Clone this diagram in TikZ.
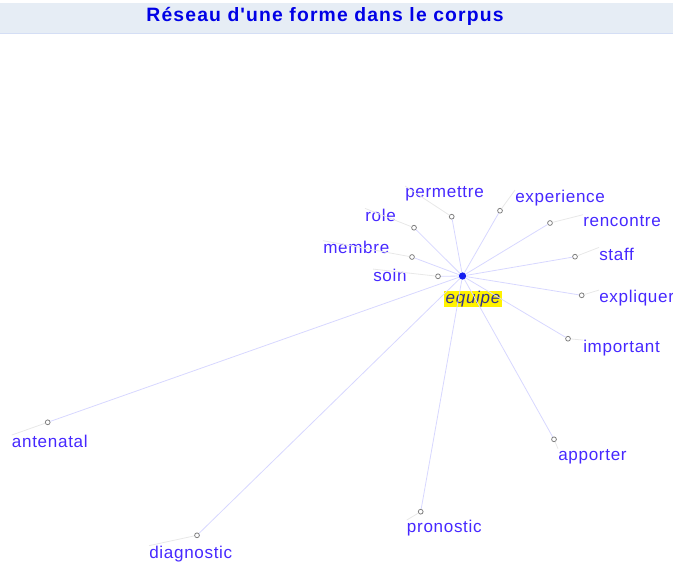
\documentclass[tikz,border=0pt]{standalone}
\usepackage{fontspec}
\setmainfont{Liberation Sans}
\newfontfamily\wordfont[LetterSpace=4]{Liberation Sans}
\newfontfamily\titlefont[LetterSpace=6]{Liberation Sans}
\usepackage{tikz}
\definecolor{wordblue}{RGB}{70,40,255}
\definecolor{titleblue}{RGB}{0,0,230}
\definecolor{hubblue}{RGB}{20,30,240}
\definecolor{linkblue}{RGB}{215,215,255}
\definecolor{leadergray}{RGB}{232,232,232}
\definecolor{barfill}{RGB}{230,237,245}
\definecolor{barline}{RGB}{212,222,245}
\definecolor{focustext}{RGB}{50,50,140}
\tikzstyle{word} = [anchor=base west, inner sep=0pt, text=wordblue, font=\wordfont\fontsize{12.8}{14}\selectfont]
\tikzstyle{focus} = [fill=yellow, text=focustext, inner xsep=1pt, inner ysep=0pt, font=\wordfont\fontsize{12.8}{14}\selectfont\itshape]
\tikzstyle{title} = [anchor=base, inner sep=0pt, text=titleblue, font=\titlefont\fontsize{14.5}{16}\selectfont\bfseries]
\tikzstyle{hub} = [circle, fill=hubblue, minimum size=5.5pt, inner sep=0pt]
\tikzstyle{leaf} = [circle, draw=gray, fill=white, line width=0.6pt, minimum size=3.6pt, inner sep=0pt]
\tikzstyle{link} = [draw=linkblue, line width=0.6pt]
\tikzstyle{leader} = [draw=leadergray, line width=0.6pt]

\begin{document}
\begin{tikzpicture}[x=0.75pt, y=-0.75pt]
    \useasboundingbox (0,0) rectangle (673,564);

    % Title bar.
    \fill [barfill] (0,3) rectangle (673,33);
    \draw [barline, line width=0.75pt] (0,33.5) -- (673,33.5);
    \node (title) [title] at (325,21.5) {Réseau d'une forme dans le corpus};

    % Centre of the network.
    \node (hub) [hub] at (462.5,276) {};
    \node (equipe) [focus] at (473,299) {equipe};

    % Co-occurring forms: dot, then word.
    \foreach\name/\dx/\dy/\lx/\ly in {
        soin/438/276.3/373/281.7,
        membre/412/257/323/253.3,
        role/414/227.7/365/221,
        permettre/451.7/216.7/405/197.3,
        experience/500/210.7/515/202.7,
        rencontre/550/223/583/226,
        staff/575/256.7/599/260,
        expliquer/581.7/295.3/599/302.7,
        important/568/338.7/583/352.7,
        apporter/554/439.3/558/460,
        pronostic/420.7/511.7/406.7/532.7,
        diagnostic/197/535.3/149/558.3,
        antenatal/47.7/422.3/11.7/447.7} {
        \node (\name) [leaf] at (\dx,\dy) {};
        \node (\name-word) [word] at (\lx,\ly) {\name};
    }

    % Links.
    \foreach\name in {soin, membre, role, permettre, experience, rencontre, staff,
        expliquer, important, apporter, pronostic, diagnostic, antenatal} {
        \draw [link] (hub) -- (\name);
        \draw [leader] (\name) -- (\name-word.north west);
    }
\end{tikzpicture}
\end{document}
